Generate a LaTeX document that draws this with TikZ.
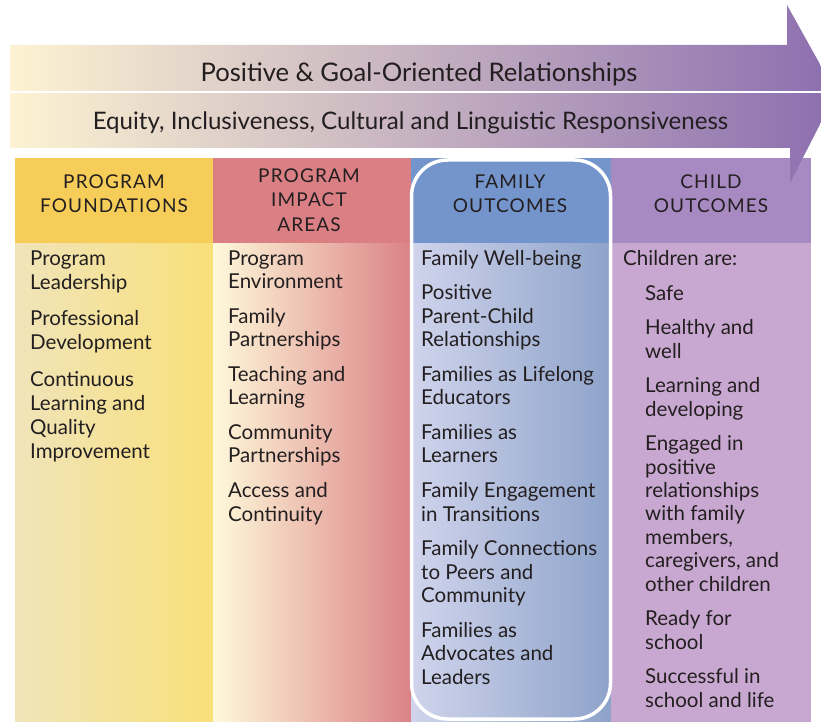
\documentclass[tikz,border=0pt]{standalone}
\usepackage{fontspec}
\setmainfont{Lato}
\newfontfamily\capsfont[LetterSpace=6]{Lato}
\usepackage{tikz}
\usetikzlibrary{positioning,calc}
\definecolor{ink}{RGB}{35,31,32}
\definecolor{bandL}{RGB}{253,243,210}
\definecolor{bandM}{RGB}{205,172,210}
\definecolor{bandR}{RGB}{140,110,175}
\definecolor{foundhd}{RGB}{245,205,88}
\definecolor{foundL}{RGB}{240,228,186}
\definecolor{foundR}{RGB}{249,224,122}
\definecolor{impacthd}{RGB}{218,128,133}
\definecolor{impactL}{RGB}{254,249,218}
\definecolor{impactR}{RGB}{219,130,134}
\definecolor{famhd}{RGB}{116,148,204}
\definecolor{famL}{RGB}{208,212,236}
\definecolor{famM}{RGB}{165,189,221}
\definecolor{famR}{RGB}{142,163,202}
\definecolor{kidhd}{RGB}{168,138,194}
\definecolor{kidbody}{RGB}{200,168,208}
% multi-line nodes sit on the baseline of their last line
\tikzstyle{colhead}=[font=\capsfont\fontsize{19}{23.5}\selectfont,
text=ink,align=center,anchor=base,inner sep=0pt]
\tikzstyle{colbody}=[font=\fontsize{20.5}{23.4}\selectfont,
text=ink,align=left,anchor=base west,inner sep=0pt]
\tikzstyle{bandtext}=[text=ink,anchor=base,inner sep=0pt]

\begin{document}
\begin{tikzpicture}[x=1pt,y=-1pt]
\useasboundingbox (0,0) rectangle (821,722);
\begin{scope}
\clip (0,0) rectangle (821,722);
% columns
\fill[foundhd] (15,158) rectangle (213,243);
\shade[left color=foundL,right color=foundR] (15,243) rectangle (213,722);
\fill[impacthd] (213,158) rectangle (411,243);
\shade[left color=impactL,right color=impactR] (213,243) rectangle (411,722);
\fill[famhd] (411,158) rectangle (611,243);
\shade[left color=famL,middle color=famM,right color=famR] (411,243) rectangle (611,722);
\fill[kidhd] (611,158) rectangle (811,243);
\fill[kidbody] (611,243) rectangle (811,722);
\draw[white,line width=3.5pt,rounded corners=36pt] (411.5,160) rectangle (610.5,719);
% arrow
\shade[left color=bandL,middle color=bandM,right color=bandR]
 (10,45) -- (787,45) -- (787,5) -- (836,93) -- (790,183) -- (790,148) -- (10,148) -- cycle;
\draw[white,line width=2pt] (10,92.5) -- (821,92.5);
\end{scope}

\node[bandtext,font=\fontsize{25.6}{30}\selectfont] (rel) at (419,82)
 {Positive \& Goal-Oriented Relationships};
\node[bandtext,font=\fontsize{24.1}{28}\selectfont] (eq) at (410.5,129.5)
 {Equity, Inclusiveness, Cultural and Linguistic Responsiveness};

\node[colhead] (found) at (114,212) {PROGRAM\\FOUNDATIONS};
\node[colhead,font=\capsfont\fontsize{19}{24.2}\selectfont] (impact) at (309,231) {PROGRAM\\IMPACT\\AREAS};
\node[colhead] (fam) at (510,212) {FAMILY\\OUTCOMES};
\node[colhead] (kid) at (711,212) {CHILD\\OUTCOMES};

\node[colbody,font=\fontsize{20.5}{24}\selectfont] (foundlist) at (30,458) {Program\\Leadership\\[12.5pt]
Professional\\Development\\[12.5pt]
Continuous\\Learning and\\Quality\\Improvement};
\node[colbody] (impactlist) at (228,521) {Program\\Environment\\[11.3pt]
Family\\Partnerships\\[11.3pt]
Teaching and\\Learning\\[11.3pt]
Community\\Partnerships\\[11.3pt]
Access and\\Continuity};
\node[colbody] (famlist) at (421,684) {Family Well-being\\[11.3pt]
Positive\\Parent-Child\\Relationships\\[11.3pt]
Families as Lifelong\\Educators\\[11.3pt]
Families as\\Learners\\[11.3pt]
Family Engagement\\in Transitions\\[11.3pt]
Family Connections\\to Peers and\\Community\\[11.3pt]
Families as\\Advocates and\\Leaders};
\node[colbody] (kidintro) at (623,265) {Children are:};
\node[colbody] (kidlist) at (645,707) {Safe\\[11.2pt]
Healthy and\\well\\[11.2pt]
Learning and\\developing\\[11.2pt]
Engaged in\\positive\\relationships\\with family\\members,\\caregivers, and\\other children\\[11.2pt]
Ready for\\school\\[11.2pt]
Successful in\\school and life};
\end{tikzpicture}
\end{document}
